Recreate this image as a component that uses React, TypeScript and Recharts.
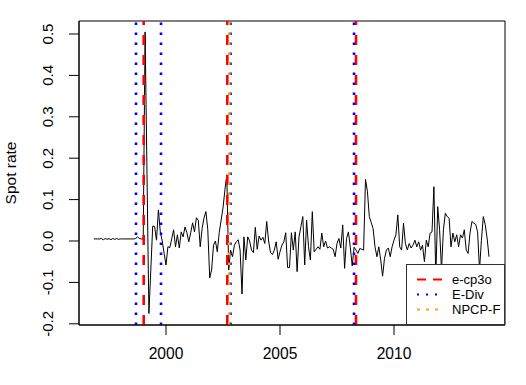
import React from 'react';
import { LineChart, Line, XAxis, YAxis, ReferenceLine, ReferenceArea } from 'recharts';

// monthly series, first observation Nov 1996
const START_YEAR = 1996 + 10 / 12;

const SPOT_RATE = [
  0.005, 0.005, 0.005, 0.005, 0.006, 0.003, 0.006, 0.004, 0.006, 0.003,
  0.006, 0.004, 0.006, 0.004, 0.005, 0.005, 0.005, 0.005, 0.005, 0.005,
  0.005, 0.005, 0.006, 0.01, 0.006, 0.005, 0.005, 0.505, 0.16, -0.175,
  -0.07, 0.036, 0.035, 0.002, 0.075, 0.022, 0.0, -0.03, -0.058, -0.014,
  -0.016, 0.005, 0.027, -0.014, 0.015, -0.017, 0.022, 0.01, 0.034, 0.02,
  -0.002, 0.02, 0.044, 0.022, 0.056, 0.05, -0.014, 0.03, 0.056, 0.071,
  0.027, -0.089, -0.07, -0.01, 0.0, -0.026, 0.02, 0.05, 0.08, 0.123,
  0.16, -0.07, -0.022, -0.038, -0.01, -0.002, 0.003, -0.022, -0.128, 0.01,
  -0.046, 0.01, 0.0, -0.022, -0.028, 0.033, -0.02, 0.012, 0.002, 0.009,
  -0.006, 0.047, 0.0, -0.028, -0.033, -0.022, -0.002, -0.044, -0.026, -0.01,
  -0.002, 0.02, -0.064, -0.064, 0.02, -0.022, 0.022, -0.074, 0.01, 0.035,
  0.059, -0.058, 0.05, -0.014, -0.046, 0.071, -0.026, -0.02, -0.014, -0.02,
  0.019, -0.014, 0.0, -0.017, -0.014, -0.017, -0.02, -0.038, -0.006, 0.006,
  -0.017, 0.039, -0.066, 0.006, 0.022, -0.015, -0.06, -0.015, -0.022, -0.03,
  -0.018, -0.02, -0.022, 0.149, 0.12, 0.059, 0.045, 0.03, -0.014, -0.038,
  -0.014, -0.046, -0.085, -0.042, -0.022, -0.017, -0.038, -0.014, 0.002, 0.015,
  0.063, -0.014, -0.022, 0.043, -0.006, -0.022, -0.006, -0.017, -0.01, 0.002,
  -0.014, -0.002, -0.022, -0.01, -0.05, 0.002, -0.014, 0.019, 0.022, 0.131,
  -0.09, 0.083, 0.027, -0.07, 0.027, 0.067, 0.059, 0.055, -0.014, 0.019,
  -0.002, 0.015, -0.014, 0.015, 0.007, 0.027, -0.022, -0.03, 0.019, 0.047,
  0.043, 0.04, 0.022, -0.07, 0.002, 0.059, 0.04, 0.007, -0.038,
];

// change point estimates (decimal years)
const ECP3O_BREAKS = [1999.022, 2002.689, 2008.333];
const EDIV_BREAKS = [1998.684, 1999.781, 2002.829, 2008.246];
const NPCPF_BREAKS = [2002.776];

const X_TICKS = [2000, 2005, 2010];
const Y_TICKS = [-0.2, -0.1, 0.0, 0.1, 0.2, 0.3, 0.4, 0.5];
const X_DOMAIN = [1996.184, 2014.868];
const Y_DOMAIN = [-0.2029, 0.5314];

const LEGEND_LABELS = ['e-cp3o', 'E-Div', 'NPCP-F'];
const LEGEND_COLORS = ['#FF0000', '#0000FF', '#FFA500'];
const LEGEND_DASHES = ['9 7', '2 7', '3 6'];

const FONT = '"Liberation Sans", Arial, Helvetica, sans-serif';

const data = SPOT_RATE.map((v, i) => ({ t: START_YEAR + i / 12, v }));

const YTick = ({ x, y, payload }: any) => (
  <text
    x={x}
    y={y}
    transform={`rotate(-90 ${x} ${y})`}
    textAnchor="middle"
    fontSize={15}
    fontFamily={FONT}
    fill="#000"
  >
    {payload.value.toFixed(1)}
  </text>
);

const YTitle = ({ viewBox }: any) => {
  const cy = viewBox ? viewBox.y + viewBox.height / 2 : 173;
  return (
    <text
      x={16}
      y={cy}
      transform={`rotate(-90 16 ${cy})`}
      textAnchor="middle"
      fontSize={15.5}
      fontFamily={FONT}
      fill="#000"
    >
      Spot rate
    </text>
  );
};

const App: React.FC = () => {
  return (
    <div style={{ position: 'absolute', left: 0, top: 0, width: 526, height: 385, background: '#fff' }}>
      <LineChart
        width={526}
        height={385}
        data={data}
        margin={{ top: 21, right: 21, bottom: 0, left: 0 }}
      >
        <XAxis
          dataKey="t"
          type="number"
          domain={X_DOMAIN}
          allowDataOverflow
          ticks={X_TICKS}
          height={60}
          tickSize={10}
          tickMargin={13}
          stroke="#000"
          tick={{ fontSize: 15.6, fill: '#000', fontFamily: FONT }}
        />
        <YAxis
          type="number"
          domain={Y_DOMAIN}
          allowDataOverflow
          ticks={Y_TICKS}
          width={79}
          tickSize={10}
          tickMargin={15.5}
          stroke="#000"
          tick={<YTick />}
          label={<YTitle />}
        />
        <ReferenceArea
          x1={X_DOMAIN[0]}
          x2={X_DOMAIN[1]}
          y1={Y_DOMAIN[0]}
          y2={Y_DOMAIN[1]}
          fill="none"
          stroke="#000"
          strokeWidth={1}
        />
        <Line
          dataKey="v"
          type="linear"
          stroke="#000"
          strokeWidth={1}
          dot={false}
          isAnimationActive={false}
        />
        {ECP3O_BREAKS.map((b, i) => (
          <ReferenceLine key={`e-${i}`} x={b} stroke="#FF0000" strokeWidth={2.6} strokeDasharray="10 10" />
        ))}
        {EDIV_BREAKS.map((b, i) => (
          <ReferenceLine key={`d-${i}`} x={b} stroke="#0000FF" strokeWidth={2.6} strokeDasharray="2.5 7.5" />
        ))}
        {NPCPF_BREAKS.map((b, i) => (
          <ReferenceLine key={`n-${i}`} x={b} stroke="#FFA500" strokeWidth={2.6} strokeDasharray="2.5 7.5" />
        ))}
      </LineChart>
      <div
        style={{
          position: 'absolute',
          left: 406,
          top: 264,
          width: 99,
          height: 61,
          boxSizing: 'border-box',
          border: '1px solid #333',
          background: '#fff',
        }}
      >
        <svg width={97} height={59}>
          {LEGEND_LABELS.map((label, i) => (
            <g key={label}>
              <line
                x1={10}
                x2={35}
                y1={14.5 + i * 15}
                y2={14.5 + i * 15}
                stroke={LEGEND_COLORS[i]}
                strokeWidth={2}
                strokeDasharray={LEGEND_DASHES[i]}
              />
              <text x={45} y={19 + i * 15} fontSize={13} fontFamily={FONT} fill="#000">
                {label}
              </text>
            </g>
          ))}
        </svg>
      </div>
    </div>
  );
};

export default App;
